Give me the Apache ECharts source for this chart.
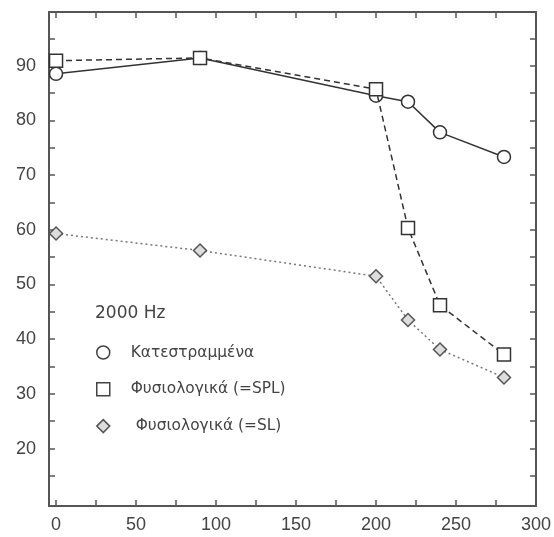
<!DOCTYPE html>
<html>
<head>
<meta charset="utf-8">
<script src="https://cdn.jsdelivr.net/npm/echarts@6/dist/echarts.min.js"></script>
<style>html,body{margin:0;padding:0;background:#fff}#c{width:554px;height:537px}</style>
</head>
<body>
<div id="c"></div>
<script>
var xTickLabels = [0, 50, 100, 150, 200, 250, 300];
var xMinorTicks = [0, 25, 50, 75, 100, 125, 150, 175, 200, 225, 250, 275, 300];
var yTickLabels = [20, 30, 40, 50, 60, 70, 80, 90];
var yMinorTicks = [15, 20, 25, 30, 35, 40, 45, 50, 55, 60, 65, 70, 75, 80, 85, 90, 95];

var xValues = [0, 90, 200, 220, 240, 280];
var damaged = [88.5, 91.4, 84.5, 83.4, 77.8, 73.3];      // Κατεστραμμένα
var normalSPL = [90.9, 91.4, 85.7, 60.3, 46.2, 37.2];    // Φυσιολογικά (=SPL)
var normalSL = [59.3, 56.2, 51.5, 43.5, 38.1, 33.0];     // Φυσιολογικά (=SL)

var names = ['Κατεστραμμένα', 'Φυσιολογικά (=SPL)', 'Φυσιολογικά (=SL)'];
var titleText = '2000 Hz';

function pairs(ys) { return xValues.map(function (x, i) { return [x, ys[i]]; }); }

var frameColor = '#555';
var textColor = '#444';

function xAxis(pos, showLabels) {
  return {
    type: 'value', position: pos, min: -4.4, max: 300,
    axisLine: { show: true, onZero: false, lineStyle: { color: frameColor, width: 2 } },
    axisTick: { show: true, inside: true, length: 6, customValues: xMinorTicks, lineStyle: { color: frameColor, width: 1.5 } },
    axisLabel: { show: showLabels, customValues: xTickLabels, margin: 10, color: textColor, fontFamily: 'Liberation Sans', fontSize: 18 },
    splitLine: { show: false }
  };
}
function yAxis(pos, showLabels) {
  return {
    type: 'value', position: pos, min: 9.5, max: 99.8,
    axisLine: { show: true, onZero: false, lineStyle: { color: frameColor, width: 2 } },
    axisTick: { show: true, inside: true, length: 6, customValues: yMinorTicks, lineStyle: { color: frameColor, width: 1.5 } },
    axisLabel: { show: showLabels, customValues: yTickLabels, margin: 13, color: textColor, fontFamily: 'Liberation Sans', fontSize: 18 },
    splitLine: { show: false }
  };
}

var chart = echarts.init(document.getElementById('c'), null, { renderer: 'canvas' });
chart.setOption({
  animation: false,
  backgroundColor: '#fff',
  grid: { left: 49, right: 17, top: 12, bottom: 31, containLabel: false },
  title: {
    text: titleText, left: 90, top: 300,
    textStyle: { fontFamily: 'DejaVu Sans', fontSize: 17, fontWeight: 'normal', color: textColor }
  },
  legend: {
    orient: 'vertical', left: 91, top: 340, itemGap: 21.8, itemWidth: 13, itemHeight: 13,
    textStyle: { fontFamily: 'DejaVu Sans', fontSize: 15.4, color: textColor, padding: [0, 0, 0, 16] },
    formatter: function (n) { return n === names[2] ? ' ' + n : n; },
    data: [
      { name: names[0], icon: 'circle', itemStyle: { color: '#fff', borderColor: '#444', borderWidth: 1.5 } },
      { name: names[1], icon: 'rect', itemStyle: { color: '#fff', borderColor: '#444', borderWidth: 1.5 } },
      { name: names[2], icon: 'diamond', itemStyle: { color: '#ddd', borderColor: '#555', borderWidth: 1.5 } }
    ]
  },
  xAxis: [xAxis('bottom', true), xAxis('top', false)],
  yAxis: [yAxis('left', true), yAxis('right', false)],
  series: [
    {
      name: names[2], type: 'line', data: pairs(normalSL),
      symbol: 'diamond', symbolSize: 13,
      lineStyle: { color: '#777', width: 1.5, type: [2, 3] },
      itemStyle: { color: '#ddd', borderColor: '#555', borderWidth: 1.5 }, z: 2
    },
    {
      name: names[0], type: 'line', data: pairs(damaged),
      symbol: 'circle', symbolSize: 13,
      lineStyle: { color: '#333', width: 1.5, type: 'solid' },
      itemStyle: { color: '#fff', borderColor: '#333', borderWidth: 1.5 }, z: 3
    },
    {
      name: names[1], type: 'line', data: pairs(normalSPL),
      symbol: 'rect', symbolSize: 13,
      lineStyle: { color: '#333', width: 1.5, type: [6, 4] },
      itemStyle: { color: '#fff', borderColor: '#333', borderWidth: 1.5 }, z: 4
    }
  ]
});
</script>
</body>
</html>
